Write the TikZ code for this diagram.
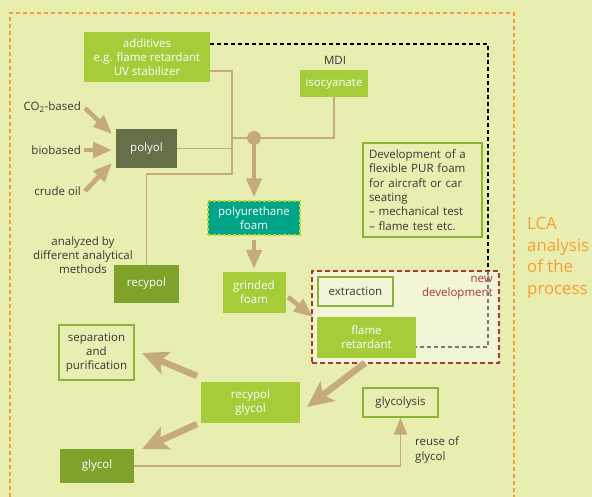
\documentclass[tikz,border=0pt]{standalone}
\usepackage{fontspec}
\setmainfont{Open Sans}
\usetikzlibrary{arrows.meta}
\definecolor{bgc}{RGB}{232,238,176}
\definecolor{brightg}{RGB}{166,204,58}
\definecolor{polyolc}{RGB}{101,112,72}
\definecolor{oliveg}{RGB}{128,162,43}
\definecolor{tealc}{RGB}{0,164,134}
\definecolor{tanc}{RGB}{197,170,122}
\definecolor{orangec}{RGB}{246,158,52}
\definecolor{borderg}{RGB}{140,178,58}
\definecolor{redd}{RGB}{168,56,56}
\definecolor{ndfill}{RGB}{242,245,214}
\definecolor{darktext}{RGB}{55,55,55}
\definecolor{pudash}{RGB}{184,212,50}
\definecolor{grayd}{RGB}{120,120,120}
\begin{document}
\begin{tikzpicture}[x=1pt,y=-1pt,
 every node/.style={font=\fontsize{11.5}{14.3}\selectfont, inner sep=0pt, align=center},
 fillbox/.style={rectangle, fill=brightg, text=white},
 obox/.style={rectangle, draw=borderg, line width=1.3pt, text=darktext},
 lbl/.style={text=darktext},
 thinline/.style={draw=tanc, line width=1.8pt},
 medarrow/.style={draw=tanc, line width=4.5pt, -{Triangle[length=19pt,width=15pt]}},
 bigarrow/.style={draw=tanc, line width=6.5pt, -{Stealth[length=26pt,width=24pt,inset=6pt]}},
 blackdash/.style={draw=black, line width=1.3pt, dash pattern=on 4pt off 3pt},
 graydash/.style={draw=grayd, line width=1.3pt, dash pattern=on 4pt off 3pt},
]
\useasboundingbox (0,0) rectangle (592,497);
\fill[bgc] (0,0) rectangle (592,497);
\draw[orangec, line width=1.5pt, dash pattern=on 4pt off 3pt] (10,497) -- (10,13) -- (514,13) -- (514,497);
\node[text=orangec, font=\fontsize{16.8}{21.5}\selectfont, align=left, anchor=west] (lca) at (527,258) {LCA\\analysis\\of the\\process};

% nodes
\node[fillbox, minimum width=126pt, minimum height=50pt] (add) at (147,57) {additives\\e.g. flame retardant\\UV stabilizer};
\node[lbl] (mdi) at (335,60) {MDI};
\node[fillbox, minimum width=68pt, minimum height=27pt] (iso) at (334,83.5) {isocyanate};
\node[rectangle, fill=polyolc, text=white, minimum width=61pt, minimum height=39pt] (polyol) at (146.5,148.5) {polyol};
\node[lbl, anchor=east] (co2) at (81,107) {CO\textsubscript{2}-based};
\node[lbl, anchor=east] (bio) at (81,150) {biobased};
\node[lbl, anchor=east] (crude) at (81,191) {crude oil};
\node[lbl] (anal) at (83,255) {analyzed by\\different analytical\\methods};
\node[rectangle, fill=oliveg, text=white, minimum width=65pt, minimum height=38pt] (recypol) at (146.5,284) {recypol};
\node[rectangle, fill=tealc, text=white, draw=pudash, line width=1.2pt, dash pattern=on 3pt off 2pt, minimum width=92pt, minimum height=34pt] (pu) at (254,218) {polyurethane\\foam};
\node[fillbox, minimum width=63pt, minimum height=41pt] (grind) at (254,292.5) {grinded\\foam};
\node[obox, align=left, text width=107pt, minimum width=119pt, minimum height=94pt, inner sep=6pt] (dev) at (422.5,190) {Development of a\\flexible PUR foam\\for aircraft or car\\seating\\– mechanical test\\– flame test etc.};

\node[rectangle, fill=ndfill, draw=redd, line width=1.5pt, dash pattern=on 5pt off 3pt, minimum width=187pt, minimum height=92pt] (newdev) at (405.5,317) {};
\node[text=redd, align=right, anchor=east] (ndlbl) at (493,288) {new\\development};
\node[obox, fill=ndfill, minimum width=75pt, minimum height=29pt] (extr) at (355.5,291.5) {extraction};
\node[fillbox, minimum width=99pt, minimum height=41pt] (flame) at (366.5,337.5) {flame\\retardant};
\node[fillbox, minimum width=99pt, minimum height=41pt] (rg) at (250.5,402.5) {recypol\\glycol};
\node[obox, minimum width=75pt, minimum height=55pt] (sep) at (96.5,352.5) {separation\\and\\purification};
\node[rectangle, fill=oliveg, text=white, minimum width=74pt, minimum height=34pt] (glycol) at (97,466) {glycol};
\node[obox, minimum width=75pt, minimum height=29pt] (glys) at (400.5,402.5) {glycolysis};
\node[lbl, align=left, anchor=west] (reuse) at (415,450) {reuse of\\glycol};

% coordinates
\coordinate (b1) at (232,71);
\coordinate (b2) at (232,174);
\coordinate (j) at (254,138);
\coordinate (d1) at (488,44);
\coordinate (d2) at (488,271);
\coordinate (d3) at (488,347);
\coordinate (t1) at (85,108);
\coordinate (p1) at (112,134);
\coordinate (t2) at (84,150);
\coordinate (p2) at (112,150);
\coordinate (t3) at (85,191);
\coordinate (p3) at (112,163);
\coordinate (gt) at (288,297);
\coordinate (gp) at (313,317);
\coordinate (ft) at (365,363);
\coordinate (fp) at (307,407);
\coordinate (st) at (197,376);
\coordinate (sp) at (142,353);
\coordinate (ct) at (197,424);
\coordinate (cp) at (142,449);

% thin connectors
\draw[thinline] (add.east |- b1) -- (b1) -- (b2) -| (recypol.north);
\draw[thinline] (polyol.east) -- (polyol.east -| b1);
\draw[thinline] (b1 |- j) -- (j) -| (iso.south);
\fill[tanc] (j) circle (7pt);

% dashed
\draw[blackdash] (add.east |- d1) -- (d1) -- (d2);
\draw[graydash] (d2) -- (d3) -- (flame.east |- d3);

% arrows
\draw[medarrow, shorten >=3pt] (j) -- (pu.north);
\draw[medarrow, shorten <=4pt, shorten >=3pt] (pu.south) -- (grind.north);
\draw[medarrow] (t1) -- (p1);
\draw[medarrow] (t2) -- (p2);
\draw[medarrow] (t3) -- (p3);
\draw[medarrow] (gt) -- (gp);
\draw[bigarrow] (ft) -- (fp);
\draw[bigarrow] (st) -- (sp);
\draw[bigarrow] (ct) -- (cp);
\draw[thinline, -{Triangle[length=17pt,width=13pt]}] (glycol.east) -| (glys.south);
\end{tikzpicture}
\end{document}
